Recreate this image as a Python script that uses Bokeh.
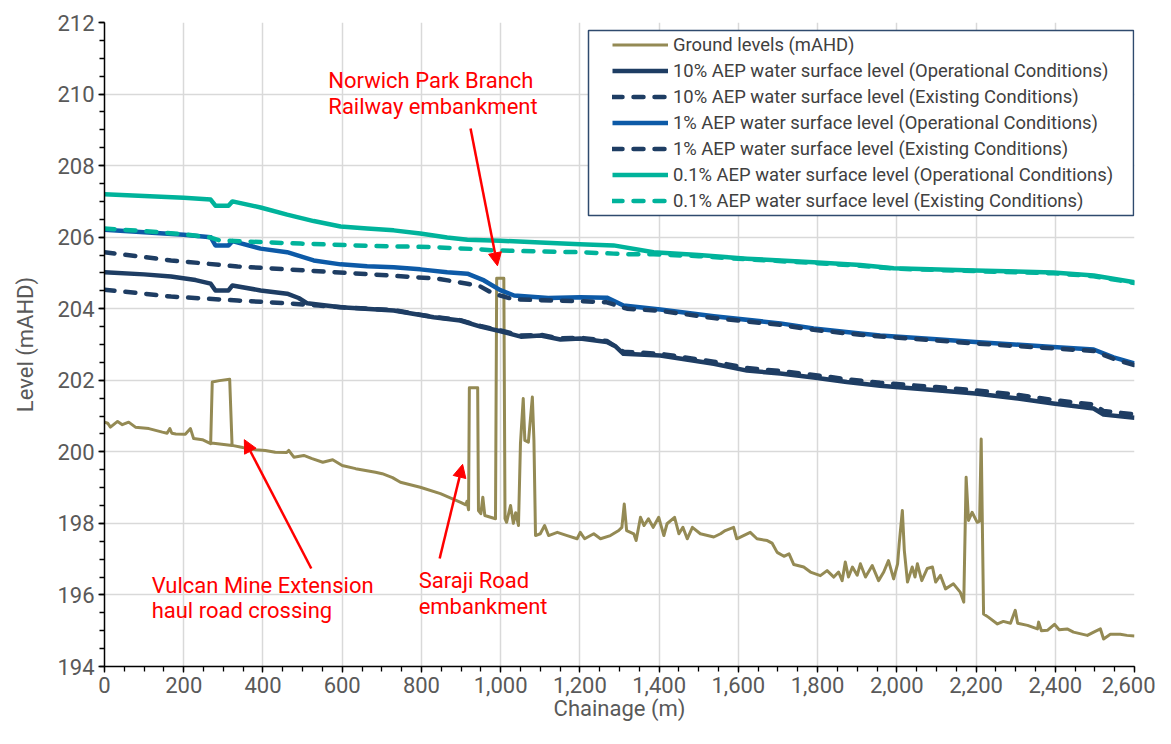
from bokeh.plotting import figure
from bokeh.models import (Range1d, FixedTicker, NumeralTickFormatter, Legend, LegendItem,
                          Label, Arrow, NormalHead, BoxAnnotation)
from bokeh.embed import file_html
from bokeh.resources import INLINE

# ---------------- data ----------------
ground_ch = [0, 8, 15, 33, 45, 61, 78, 112, 146, 158, 165, 170, 180, 204, 217, 225, 247, 268,
             272, 290, 316, 322, 270, 322, 349, 382, 406, 431, 460, 465, 478, 503, 524, 551,
             576, 600, 634, 684, 701, 727, 747, 797, 848, 899, 912, 915, 919, 921, 942, 944,
             950, 955, 960, 987, 990, 1008, 1011, 1015, 1025, 1032, 1038, 1045, 1050, 1057,
             1061, 1070, 1080, 1084, 1088, 1100, 1111, 1121, 1143, 1168, 1193, 1201, 1212,
             1235, 1252, 1277, 1298, 1306, 1312, 1318, 1336, 1342, 1353, 1362, 1373, 1385,
             1399, 1412, 1420, 1439, 1450, 1460, 1471, 1484, 1504, 1538, 1555, 1567, 1588,
             1596, 1613, 1630, 1647, 1673, 1685, 1698, 1715, 1728, 1740, 1765, 1782, 1807,
             1824, 1841, 1853, 1862, 1870, 1878, 1888, 1900, 1908, 1921, 1938, 1954, 1967,
             1979, 1992, 2002, 2006, 2014, 2019, 2027, 2039, 2046, 2052, 2063, 2077, 2090,
             2098, 2110, 2123, 2143, 2160, 2169, 2175, 2181, 2190, 2203, 2209, 2213, 2219,
             2231, 2254, 2269, 2287, 2299, 2305, 2330, 2355, 2358, 2365, 2380, 2398, 2410,
             2430, 2446, 2481, 2497, 2514, 2522, 2539, 2564, 2581, 2600]
ground_lv = [200.83, 200.80, 200.69, 200.85, 200.76, 200.83, 200.69, 200.65, 200.55, 200.52,
             200.65, 200.52, 200.50, 200.49, 200.65, 200.37, 200.34, 200.23,
             201.95, 201.99, 202.03, 200.18, 200.25, 200.18, 200.12, 200.06, 200.04, 199.99,
             199.98, 200.04, 199.85, 199.90, 199.81, 199.71, 199.78, 199.62, 199.53, 199.43,
             199.39, 199.28, 199.15, 199.01, 198.83, 198.59, 198.52, 198.62, 198.38, 201.79,
             201.79, 198.36, 198.27, 198.73, 198.22, 198.13, 204.85, 204.85, 198.13, 198.03,
             198.50, 198.00, 198.30, 197.94, 200.23, 201.49, 200.32, 200.27, 201.53, 200.32,
             197.66, 197.71, 197.94, 197.66, 197.75, 197.66, 197.57, 197.75, 197.57, 197.71,
             197.57, 197.66, 197.80, 197.89, 198.54, 197.80, 197.71, 197.52, 198.17, 197.94,
             198.13, 197.89, 198.17, 197.66, 197.99, 198.17, 197.71, 197.89, 197.57, 197.89,
             197.71, 197.62, 197.71, 197.80, 197.89, 197.57, 197.66, 197.75, 197.57, 197.52,
             197.45, 197.19, 197.08, 197.15, 196.85, 196.78, 196.64, 196.54, 196.68, 196.50,
             196.64, 196.40, 196.92, 196.50, 196.78, 196.55, 196.87, 196.50, 196.82, 196.40,
             196.64, 196.96, 196.45, 196.87, 197.43, 198.36, 197.24, 196.36, 196.78, 196.50,
             196.87, 196.40, 196.74, 196.78, 196.36, 196.55, 196.17, 196.31, 196.08, 195.80,
             199.29, 198.08, 198.31, 198.03, 198.06, 200.36, 195.47, 195.38, 195.19, 195.26,
             195.21, 195.57, 195.21, 195.15, 195.05, 195.24, 195.00, 195.01, 195.18, 195.03,
             195.05, 194.96, 194.87, 194.96, 195.05, 194.77, 194.90, 194.90, 194.87, 194.85]

op10_ch = [0, 100, 168, 230, 268, 280, 313, 323, 394, 461, 490, 512, 596, 730, 831, 898, 949,
           1000, 1051, 1101, 1151, 1201, 1268, 1290, 1310, 1403, 1538, 1622, 1706, 1790, 1874,
           1958, 2100, 2198, 2300, 2395, 2497, 2522, 2600]
op10_lv = [205.02, 204.96, 204.90, 204.80, 204.70, 204.51, 204.51, 204.65, 204.51, 204.42,
           204.30, 204.15, 204.04, 203.95, 203.76, 203.67, 203.50, 203.37, 203.22, 203.25,
           203.14, 203.17, 203.07, 202.95, 202.74, 202.69, 202.46, 202.27, 202.19, 202.08,
           201.95, 201.85, 201.72, 201.63, 201.50, 201.35, 201.21, 201.04, 200.95]

ex10_ch = [0, 100, 168, 336, 463, 540, 600, 730, 831, 898, 949, 1000, 1051, 1101, 1151, 1201,
           1268, 1310, 1403, 1538, 1622, 1706, 1790, 1874, 1958, 2100, 2198, 2300, 2395, 2497,
           2522, 2600]
ex10_lv = [204.53, 204.42, 204.34, 204.23, 204.15, 204.09, 204.04, 203.96, 203.77, 203.68,
           203.52, 203.39, 203.25, 203.27, 203.17, 203.19, 203.10, 202.80, 202.74, 202.52,
           202.34, 202.26, 202.15, 202.03, 201.93, 201.81, 201.72, 201.60, 201.45, 201.32,
           201.14, 201.05]

op1_ch = [0, 100, 200, 268, 280, 313, 323, 394, 461, 528, 596, 663, 730, 797, 865, 916, 958,
          999, 1034, 1120, 1201, 1268, 1310, 1403, 1538, 1706, 1790, 1908, 1958, 2100, 2198,
          2395, 2497, 2547, 2600]
op1_lv = [206.21, 206.14, 206.07, 206.00, 205.77, 205.77, 205.89, 205.68, 205.58, 205.35,
          205.24, 205.19, 205.16, 205.10, 205.02, 204.98, 204.79, 204.52, 204.37, 204.30,
          204.32, 204.31, 204.09, 203.98, 203.79, 203.59, 203.45, 203.31, 203.25, 203.15,
          203.07, 202.93, 202.86, 202.64, 202.47]

ex1_ch = [0, 168, 336, 505, 673, 841, 916, 949, 982, 1034, 1201, 1268, 1319, 1403, 1538, 1706,
          1790, 1908, 2100, 2198, 2395, 2497, 2547, 2600]
ex1_lv = [205.58, 205.35, 205.18, 205.07, 204.96, 204.84, 204.70, 204.62, 204.42, 204.26,
          204.21, 204.18, 204.00, 203.94, 203.74, 203.55, 203.41, 203.27, 203.11, 203.03,
          202.89, 202.82, 202.60, 202.42]

op01_ch = [0, 100, 200, 268, 280, 313, 323, 394, 461, 528, 596, 663, 730, 797, 865, 916, 999,
           1100, 1200, 1285, 1386, 1500, 1622, 1790, 1908, 1992, 2198, 2395, 2497, 2600]
op01_lv = [207.20, 207.15, 207.10, 207.05, 206.88, 206.88, 207.00, 206.83, 206.63, 206.45,
           206.30, 206.24, 206.19, 206.10, 205.99, 205.93, 205.90, 205.85, 205.80, 205.77,
           205.58, 205.50, 205.40, 205.30, 205.22, 205.13, 205.07, 205.01, 204.93, 204.74]

ex01_ch = [0, 100, 200, 268, 290, 400, 495, 663, 831, 949, 982, 1100, 1201, 1285, 1319, 1386,
           1500, 1622, 1790, 1908, 1992, 2198, 2395, 2497, 2600]
ex01_lv = [206.24, 206.17, 206.08, 205.99, 205.91, 205.86, 205.82, 205.76, 205.72, 205.66,
           205.63, 205.60, 205.58, 205.54, 205.52, 205.52, 205.47, 205.38, 205.28, 205.20,
           205.12, 205.05, 204.99, 204.91, 204.72]

series_names = ["Ground levels (mAHD)",
                "10% AEP water surface level (Operational Conditions)",
                "10% AEP water surface level (Existing Conditions)",
                "1% AEP water surface level (Operational Conditions)",
                "1% AEP water surface level (Existing Conditions)",
                "0.1% AEP water surface level (Operational Conditions)",
                "0.1% AEP water surface level (Existing Conditions)"]

x_ticks = list(range(0, 2601, 200))
y_ticks = list(range(194, 213, 2))

# ---------------- styles ----------------
OLIVE = "#948A54"
NAVY = "#1E3D63"
BLUE = "#0D5AA7"
TEAL = "#00B39B"
FONT = "Roboto"
AX_TXT = "#595959"

p = figure(width=1155, height=728, output_backend="svg", toolbar_location=None,
           x_range=Range1d(0, 2600), y_range=Range1d(194, 212),
           min_border_left=104, min_border_right=21, min_border_top=22, min_border_bottom=62)
p.outline_line_color = None
p.background_fill_color = "white"

p.xaxis.ticker = FixedTicker(ticks=x_ticks, minor_ticks=list(range(0, 2601, 50)))
p.yaxis.ticker = FixedTicker(ticks=y_ticks, minor_ticks=[194 + 0.5 * i for i in range(37)])
p.xaxis.formatter = NumeralTickFormatter(format="0,0")

for ax in (p.xaxis[0], p.yaxis[0]):
    ax.axis_line_color = "black"
    ax.axis_line_width = 1.5
    ax.major_tick_line_color = "black"
    ax.minor_tick_line_color = "black"
    ax.major_tick_line_width = 1.3
    ax.minor_tick_line_width = 1.3
    ax.major_tick_in = 0
    ax.major_tick_out = 6
    ax.minor_tick_in = 0
    ax.minor_tick_out = 5
    ax.major_label_text_font = FONT
    ax.major_label_text_font_size = "22px"
    ax.major_label_text_color = AX_TXT
    ax.axis_label_text_font = FONT
    ax.axis_label_text_font_size = "22px"
    ax.axis_label_text_font_style = "normal"
    ax.axis_label_text_color = AX_TXT

p.xaxis.axis_label = "Chainage (m)"
p.yaxis.axis_label = "Level (mAHD)"
p.xaxis.major_label_standoff = 4
p.xaxis.axis_label_standoff = 0
p.yaxis.major_label_standoff = 4
p.yaxis.axis_label_standoff = 16

p.xgrid.grid_line_color = "#d9d9d9"
p.ygrid.grid_line_color = "#d9d9d9"
p.xgrid.grid_line_width = 1.5
p.ygrid.grid_line_width = 1.5

# ---------------- lines ----------------
r_g = p.line(ground_ch, ground_lv, line_color=OLIVE, line_width=3, line_join="round")
r_op10 = p.line(op10_ch, op10_lv, line_color=NAVY, line_width=4.5, line_join="round")
r_ex10 = p.line(ex10_ch, ex10_lv, line_color=NAVY, line_width=4.5, line_dash="10 11",
                line_cap="round", line_join="round")
r_op1 = p.line(op1_ch, op1_lv, line_color=BLUE, line_width=4.5, line_join="round")
r_ex1 = p.line(ex1_ch, ex1_lv, line_color=NAVY, line_width=4.5, line_dash="10 11",
               line_cap="round", line_join="round")
r_op01 = p.line(op01_ch, op01_lv, line_color=TEAL, line_width=4.5, line_join="round")
r_ex01 = p.line(ex01_ch, ex01_lv, line_color=TEAL, line_width=4.5, line_dash="10 11",
                line_cap="round", line_join="round")

renderers = [r_g, r_op10, r_ex10, r_op1, r_ex1, r_op01, r_ex01]

# ---------------- legend ----------------
box = BoxAnnotation(left=484, right=1029, bottom=451, top=636,
                    left_units="screen", right_units="screen",
                    bottom_units="screen", top_units="screen",
                    fill_color="white", fill_alpha=1.0,
                    line_color="#2F4A6E", line_width=1.5, line_alpha=1.0)
p.add_layout(box)

legend = Legend(items=[LegendItem(label=n, renderers=[r]) for n, r in zip(series_names, renderers)],
                location=(508, 454))
legend.label_text_font = FONT
legend.label_text_font_size = "18.4px"
legend.label_text_color = "#404040"
legend.glyph_width = 56
legend.glyph_height = 23
legend.label_height = 23
legend.spacing = 3
legend.padding = 0
legend.margin = 0
legend.label_standoff = 5
legend.border_line_alpha = 0
legend.background_fill_alpha = 0
p.add_layout(legend)

# ---------------- annotations ----------------
RED = "#FF0000"
notes = [(565, 210.38, "Norwich Park Branch"), (565, 209.65, "Railway embankment"),
         (119, 196.26, "Vulcan Mine Extension"), (119, 195.57, "haul road crossing"),
         (793, 196.40, "Saraji Road"), (793, 195.68, "embankment")]
for x, y, t in notes:
    p.add_layout(Label(x=x, y=y, text=t, text_color=RED, text_font=FONT,
                       text_font_size="22px", text_baseline="middle", text_align="left"))

arrows = [(924, 209.04, 992, 205.20), (522, 196.74, 353, 200.34), (846, 197.02, 904, 199.65)]
for xs, ys, xe, ye in arrows:
    p.add_layout(Arrow(end=NormalHead(size=13, fill_color=RED, line_color=RED),
                       x_start=xs, y_start=ys, x_end=xe, y_end=ye,
                       line_color=RED, line_width=2.5))

open("out.html", "w").write(file_html(p, INLINE))
